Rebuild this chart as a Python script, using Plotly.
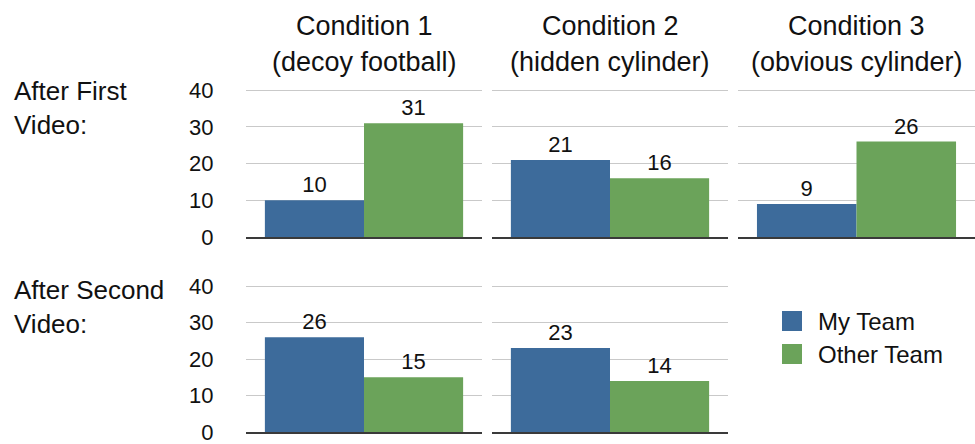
import plotly.graph_objects as go

# Counts per condition and video
conditions = ["Condition 1", "Condition 2", "Condition 3"]
subtitles = ["(decoy football)", "(hidden cylinder)", "(obvious cylinder)"]
row_labels = ["After First<br>Video:", "After Second<br>Video:"]
series_names = ["My Team", "Other Team"]
first_my_team = [10, 21, 9]
first_other_team = [31, 16, 26]
second_my_team = [26, 23]
second_other_team = [15, 14]
y_ticks = [0, 10, 20, 30, 40]

colors = {"My Team": "#3d6b9b", "Other Team": "#6ba35a"}
FONT = "Liberation Sans, Arial, Helvetica, sans-serif"
W, H = 975, 444
Y_MAX = 40.3  # a little headroom so the 40 gridline stays inside the plot area


def px_x(x):
    return x / W


def px_y(y):
    return 1 - y / H


col_domains = [(246, 482), (492, 728), (738, 975)]
# pixel rows: top of the 40 gridline (plus headroom) to the baseline
row_domains = [(89, 237), (285, 432)]

rows = [
    (first_my_team, first_other_team),
    (second_my_team, second_other_team),
]

fig = go.Figure()
layout_axes = {}
k = 0
for r, (mine, other) in enumerate(rows):
    for c in range(len(mine)):
        k += 1
        xa = "x" if k == 1 else f"x{k}"
        ya = "y" if k == 1 else f"y{k}"
        for name, vals in zip(series_names, (mine, other)):
            fig.add_trace(go.Bar(
                x=[""], y=[vals[c]], name=name, xaxis=xa, yaxis=ya,
                marker=dict(color=colors[name], line=dict(width=0)),
                text=[str(vals[c])], textposition="outside",
                textfont=dict(family=FONT, size=22, color="#111"),
                cliponaxis=False, showlegend=False,
            ))
        x0, x1 = col_domains[c]
        y0, y1 = row_domains[r]
        layout_axes["xaxis" if k == 1 else f"xaxis{k}"] = dict(
            domain=[px_x(x0), px_x(x1)], anchor=ya, automargin=False,
            showticklabels=False, showgrid=False, zeroline=False,
            showline=True, linecolor="#3a3a3a", linewidth=1.5,
            fixedrange=True,
        )
        layout_axes["yaxis" if k == 1 else f"yaxis{k}"] = dict(
            domain=[px_y(y1), px_y(y0)], anchor=xa, range=[0, Y_MAX],
            automargin=False, ticklabeloverflow="allow",
            tickvals=y_ticks, showticklabels=(c == 0),
            ticks="outside" if c == 0 else "", ticklen=27,
            tickcolor="rgba(0,0,0,0)",
            tickfont=dict(family=FONT, size=22, color="#111"),
            showgrid=True, gridcolor="#c9c9c9", gridwidth=1.2,
            zeroline=False, showline=False, fixedrange=True,
        )

annotations = []
# Column headings
for c, (title, sub) in enumerate(zip(conditions, subtitles)):
    x0, x1 = col_domains[c]
    annotations.append(dict(
        x=px_x((x0 + x1) / 2), y=px_y(26), xref="paper", yref="paper",
        text=title, showarrow=False, xanchor="center", yanchor="middle",
        font=dict(family=FONT, size=27, color="#111"),
    ))
    annotations.append(dict(
        x=px_x((x0 + x1) / 2), y=px_y(62), xref="paper", yref="paper",
        text=sub, showarrow=False, xanchor="center", yanchor="middle",
        font=dict(family=FONT, size=27, color="#111"),
    ))

# Row headings
for r, label in enumerate(row_labels):
    top = [74, 273][r]
    annotations.append(dict(
        x=px_x(12), y=px_y(top), xref="paper", yref="paper",
        text=label, showarrow=False, xanchor="left", yanchor="top",
        align="left", font=dict(family=FONT, size=26, color="#111"),
    ))

# Legend
shapes = []
for i, name in enumerate(series_names):
    y_top = 311 + i * 33
    shapes.append(dict(
        type="rect", xref="paper", yref="paper",
        x0=px_x(782), x1=px_x(802), y0=px_y(y_top + 20), y1=px_y(y_top),
        fillcolor=colors[name], line=dict(width=0),
    ))
    annotations.append(dict(
        x=px_x(816), y=px_y(y_top + 10), xref="paper", yref="paper",
        text=name, showarrow=False, xanchor="left", yanchor="middle",
        font=dict(family=FONT, size=24, color="#111"),
    ))

fig.update_layout(
    width=W, height=H, margin=dict(l=0, r=0, t=0, b=0, autoexpand=False),
    paper_bgcolor="white", plot_bgcolor="white",
    barmode="group", bargap=0.16, bargroupgap=0,
    showlegend=False, annotations=annotations, shapes=shapes,
    **layout_axes,
)

fig.write_html("out.html", config={"displayModeBar": False})
